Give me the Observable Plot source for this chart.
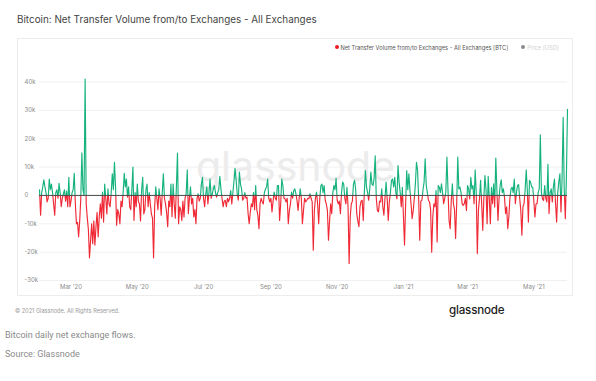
<!DOCTYPE html>
<html><head><meta charset="utf-8">
<script src="https://cdn.jsdelivr.net/npm/d3@7"></script>
<script src="https://cdn.jsdelivr.net/npm/@observablehq/plot@0.6"></script>
<style>
body{margin:0;background:#fff;}
#wrap{position:relative;width:596px;height:381px;overflow:hidden;font-family:Inter,"Noto Sans",sans-serif;}
.abs{position:absolute;white-space:nowrap;line-height:1;}
.dot{display:inline-block;width:4px;height:4px;border-radius:50%;vertical-align:middle;margin-right:2px;position:relative;top:-0.5px;}
</style></head><body><div id="wrap">
<div class="abs" style="left:17px;top:15px;font-size:9.9px;color:#444;">Bitcoin: Net Transfer Volume from/to Exchanges - All Exchanges</div>
<div class="abs" style="left:17px;top:38px;width:556px;height:258px;border:1px solid #ececec;box-sizing:border-box;"></div>
<div class="abs" id="chart" style="left:17px;top:38px;"></div>
<div class="abs" id="legend" style="left:334.5px;top:44.5px;font-size:5.7px;color:#555;"></div>
<div class="abs" style="left:15px;top:309px;font-size:5.6px;color:#9a9a9a;">© 2021 Glassnode. All Rights Reserved.</div>
<div class="abs" style="left:449px;top:305px;font-size:11.6px;color:#1c1c1c;font-weight:500;letter-spacing:-0.2px;">glassnode</div>
<div class="abs" style="left:5px;top:331px;font-size:9px;color:#8a8a8a;font-family:Roboto,sans-serif;">Bitcoin daily net exchange flows.</div>
<div class="abs" style="left:5px;top:349.5px;font-size:9px;color:#8a8a8a;font-family:Roboto,sans-serif;">Source: Glassnode</div>
</div>
<script>
// Daily net transfer volume to/from exchanges, thousands of BTC, starting 2020-02-01
const startDate = "2020-02-01";
const netFlowK = [
 2,-7,1,3,5.5,3,1,-2.3,-1,5.8,
 2,4,1,-3,-7,1,2,-1,4.3,1,
 -4,-1,0.5,2,-2,1.5,-4,6.4,-4,-2,
 1,2,7.8,-3,-10,-9.5,-14.6,-9,-1,15,
 2,0,41,-3,-8,-12,-22,-16,-10,-17,
 -9,-17.5,-11,-6,-14.6,-7.5,-3,-8,1.2,-9.4,
 4,-1,-6.5,2.3,-3,-4,1,7.6,2,11.7,
 3,-10.5,-5,-6.5,-10,-2,-4,1,7.8,3,
 5.8,-0.6,3,-4,-5,2,10,-8.8,1,-4,
 4,-2,-3,-9,2,6.4,-6.5,-5,2,4,
 -4,1,-3,-6.5,-8,-22,-4,3,-1,-5,
 2.3,-1,-7,1,7.6,-1,-3,-6,-11,-2,
 -4,4,-7.5,4,-3,-8,3,14.9,-10,-4,
 -5,-8.8,-2,-7.6,-1,0.6,9,-6.4,-1,3,
 -3,-1,-7.6,-5,-10,-1,0.6,-2,-1,4,
 6.4,-1,-4,0.5,3,-3,1,5.8,-1,0.5,
 2.3,3.5,1,-0.6,1,2,6.7,2.3,-1,-4,
 -2,-1.7,-4,-1,-2.3,-1,1.7,-3,1,5,
 9.6,5.3,0.5,-1.7,8.2,4,2.3,-1.7,-1,1,
 -1,-0.6,-6.4,-10,-6,-3,-4,1,-5,3.5,
 -5,-7,-11.7,-3,-1,-2.3,-3,1,2.3,3,
 5.8,-1,-2.3,-1,-5.8,-2,1.2,-1,-1.7,3.5,
 3.5,-8.8,-3,5.8,3.5,-1,-1.2,-2.3,-1,-10,
 -5.3,-3,1.2,-1,1.7,2.3,0.6,-1.7,-5.3,-1,
 2.3,-1,-10,-5.3,-1,-2.3,-1.7,-1,-1.2,0.6,
 -1,-2.3,-19.3,-5.3,-1,1.2,-3,-10,-1,3.5,
 4,1,3.5,-1.7,-3,-5.3,-15.8,-9,-3,-6.4,
 1,3.5,2,6,-1.7,-3,-2,-6.4,1,4.7,
 4,-1,-3,2.9,-4,-24,-7.6,-3,-2,4,
 5.3,2.3,-6.4,-9,-11,-4,-2,-1.7,-8.8,1,
 8.8,3,1,-1.7,2.3,8.2,4,3.5,6,14,
 -1,-5.3,-5.8,-2,-2.3,2.3,-4,-7,-1,4.7,
 -1,-8.8,-2.3,1,5.3,5.8,3,6.4,1,-1.2,
 10.5,4.7,1,-4,2.9,-7.6,-17.5,-3,8.8,2,
 7.6,1.7,-3,-8.2,-5.3,-1,4.1,11.7,8.8,-1,
 -15.8,-2,-1.7,2,4.7,12.9,3.5,1,-1.7,-2.3,
 -5,-20,-7.6,-3,-4,1.7,-16.4,3.5,2.9,1,
 4.1,1,-2.9,-1,1.2,13.5,2,-8.8,-11.7,-2,
 4.1,-2.9,-5,-15.2,-3,13.5,2.3,2.9,1,-2.9,
 -3.5,-2.9,-1,-5.3,3.5,2.3,-1.2,6.4,2.3,3.5,
 -2.9,9,1,-20.5,-5.3,-1,5.3,-2.9,-12.3,-1,
 7,2,-10,6.7,-1,-10,2.9,-2.9,4.1,-4.1,
 13.2,2,-8.8,-1,3.5,5.5,1,2.3,-0.6,-6.4,
 -4,-11.7,-7.6,-1,2.3,2.9,1,5.8,-2.9,1,
 3.5,3.8,-1,-5.3,-14,-4,-2.9,1.8,9,2,
 -9.4,5.3,4.7,3,2.9,-1.8,-7.6,-3,-2.9,1,
 2.3,21.4,1,-1.2,-1.8,3.5,-1,-2.3,11,-6.4,
 1,2.3,-2.3,3,5.8,-2.9,-9.4,1,4.7,7.6,
 -5.8,6,27.5,2,-8.2,6.7,30.4
];
const yTickValues = [40000,30000,20000,10000,0,-10000,-20000,-30000];
const yTickLabels = ["40k","30k","20k","10k","0","-10k","-20k","-30k"];
const xTickDates = ["2020-03-01","2020-05-01","2020-07-01","2020-09-01","2020-11-01","2021-01-01","2021-03-01","2021-05-01"];
const xTickLabels = ["Mar '20","May '20","Jul '20","Sep '20","Nov '20","Jan '21","Mar '21","May '21"];
const seriesName = "Net Transfer Volume from/to Exchanges - All Exchanges [BTC]";
const priceName = "Price [USD]";
const GREEN = "#16b27e", RED = "#ef2a36";

const t0 = new Date(startDate + "T00:00:00Z").getTime();
const data = netFlowK.map((v, i) => ({date: new Date(t0 + i * 86400000), value: v * 1000}));
const xTicks = xTickDates.map(s => new Date(s + "T00:00:00Z"));

const W = 556, H = 258, mL = 22, mR = 6, mT = 43.5, mB = 16;
const yDomain = [-30000, 40000];

const chart = Plot.plot({
  width: W, height: H,
  marginLeft: mL, marginRight: mR, marginTop: mT, marginBottom: mB,
  x: {type: "utc", domain: [data[0].date, data[data.length - 1].date], axis: null},
  y: {domain: yDomain, axis: null},
  style: {background: "transparent", overflow: "visible", fontFamily: "Inter, sans-serif"},
  marks: [
    Plot.ruleY(yTickValues, {stroke: "#f0f0f0", strokeWidth: 1}),
    Plot.text(["glassnode"], {text: d => d, frameAnchor: "middle", dx: -8, dy: -13, fontSize: 41, fill: "#ececec", fontFamily: "Inter, sans-serif"}),
    Plot.text(yTickValues, {y: d => d, text: (d, i) => yTickLabels[i], frameAnchor: "left", dx: -15, textAnchor: "start", fontSize: 6, fill: "#8a8a8a"}),
    Plot.text(xTicks, {x: d => d, text: (d, i) => xTickLabels[i], frameAnchor: "bottom", dy: 8, fontSize: 6, fill: "#8a8a8a"}),
    Plot.line(data, {x: "date", y: "value", stroke: "url(#netflowSign)", strokeWidth: 1.15}),
    Plot.ruleY([0], {stroke: "#4a4a4a", strokeWidth: 1})
  ]
});

const y0 = mT + (yDomain[1] / (yDomain[1] - yDomain[0])) * (H - mT - mB);
const grad = d3.select(chart).insert("defs", ":first-child")
  .append("linearGradient").attr("id", "netflowSign")
  .attr("gradientUnits", "userSpaceOnUse")
  .attr("x1", 0).attr("y1", 0).attr("x2", 0).attr("y2", H);
grad.append("stop").attr("offset", y0 / H).attr("stop-color", GREEN);
grad.append("stop").attr("offset", y0 / H).attr("stop-color", RED);
document.getElementById("chart").appendChild(chart);

document.getElementById("legend").innerHTML =
  `<span class="dot" style="background:#ee1c25"></span>${seriesName}<span style="display:inline-block;width:13px"></span><span class="dot" style="background:#8a8a8a"></span><span style="color:#d2d2d2">${priceName}</span>`;
</script>
</body></html>
